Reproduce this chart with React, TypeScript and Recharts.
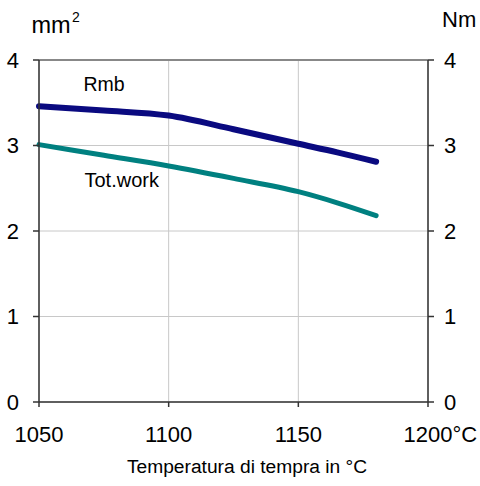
import {
  CartesianGrid,
  Line,
  LineChart,
  ReferenceLine,
  XAxis,
  YAxis,
} from "recharts";

// quench temperature, °C
const temps = [1050, 1075, 1100, 1125, 1150, 1165, 1180];
// Rmb, left axis (mm²)
const rmb = [3.46, 3.41, 3.35, 3.19, 3.02, 2.92, 2.81];
// Tot.work, right axis (Nm)
const totWork = [3.01, 2.885, 2.76, 2.615, 2.46, 2.33, 2.18];

const xTicks = [1050, 1100, 1150, 1200];
const yTicks = [0, 1, 2, 3, 4];

const FONT = "'Liberation Sans', Arial, sans-serif";
const AXIS = "#333333";

const data = temps.map((t, i) => ({ t, rmb: rmb[i], totWork: totWork[i] }));

function XTick({ x, y, payload }: any) {
  const last = payload.value === xTicks[xTicks.length - 1];
  return (
    <g>
      <text x={x} y={y} dy="0.71em" textAnchor="middle" fontSize={22} fontFamily={FONT} fill="#000">
        {payload.value}
      </text>
      {last && (
        <text x={x + 24.5} y={y} dy="0.71em" textAnchor="start" fontSize={22} fontFamily={FONT} fill="#000">
          °C
        </text>
      )}
    </g>
  );
}

export default function App() {
  return (
    <div style={{ position: "absolute", left: 0, top: 0, width: 480, height: 486, background: "#fff" }}>
      <LineChart width={480} height={486} data={data} margin={{ top: 60, right: 0, left: 0, bottom: 0 }}>
        <CartesianGrid yAxisId="left" stroke="#c8c8c8" strokeWidth={1} />
        <XAxis
          dataKey="t"
          type="number"
          domain={[1050, 1200]}
          ticks={xTicks}
          height={84}
          tickSize={5}
          tickMargin={19}
          stroke={AXIS}
          strokeWidth={1.5}
          tick={<XTick />}
        />
        <YAxis
          yAxisId="left"
          domain={[0, 4]}
          ticks={yTicks}
          width={39}
          tickSize={6}
          tickMargin={14}
          stroke={AXIS}
          strokeWidth={1.5}
          tick={{ fontSize: 22, fontFamily: FONT, fill: "#000" }}
        />
        <YAxis
          yAxisId="right"
          orientation="right"
          domain={[0, 4]}
          ticks={yTicks}
          width={52}
          tickSize={6}
          tickMargin={10}
          stroke={AXIS}
          strokeWidth={1.5}
          tick={{ fontSize: 22, fontFamily: FONT, fill: "#000" }}
        />
        <ReferenceLine yAxisId="left" y={4} stroke="#888888" strokeWidth={2} />
        <Line
          yAxisId="left"
          type="monotone"
          dataKey="rmb"
          stroke="#0a0a80"
          strokeWidth={6}
          strokeLinecap="round"
          dot={false}
          isAnimationActive={false}
        />
        <Line
          yAxisId="right"
          type="monotone"
          dataKey="totWork"
          stroke="#008080"
          strokeWidth={5}
          strokeLinecap="round"
          dot={false}
          isAnimationActive={false}
        />
      </LineChart>
      <svg
        width={480}
        height={486}
        style={{ position: "absolute", left: 0, top: 0, pointerEvents: "none" }}
        fontFamily={FONT}
      >
        <text x={31.5} y={33} fontSize={23.5}>
          mm
        </text>
        <text x={72} y={22} fontSize={14}>
          2
        </text>
        <text x={442} y={27} fontSize={22}>
          Nm
        </text>
        <text x={83.5} y={91} fontSize={19.5}>
          Rmb
        </text>
        <text x={84.5} y={187} fontSize={20}>
          Tot.work
        </text>
        <text x={247} y={473} fontSize={19.2} textAnchor="middle">
          Temperatura di tempra in °C
        </text>
      </svg>
    </div>
  );
}
